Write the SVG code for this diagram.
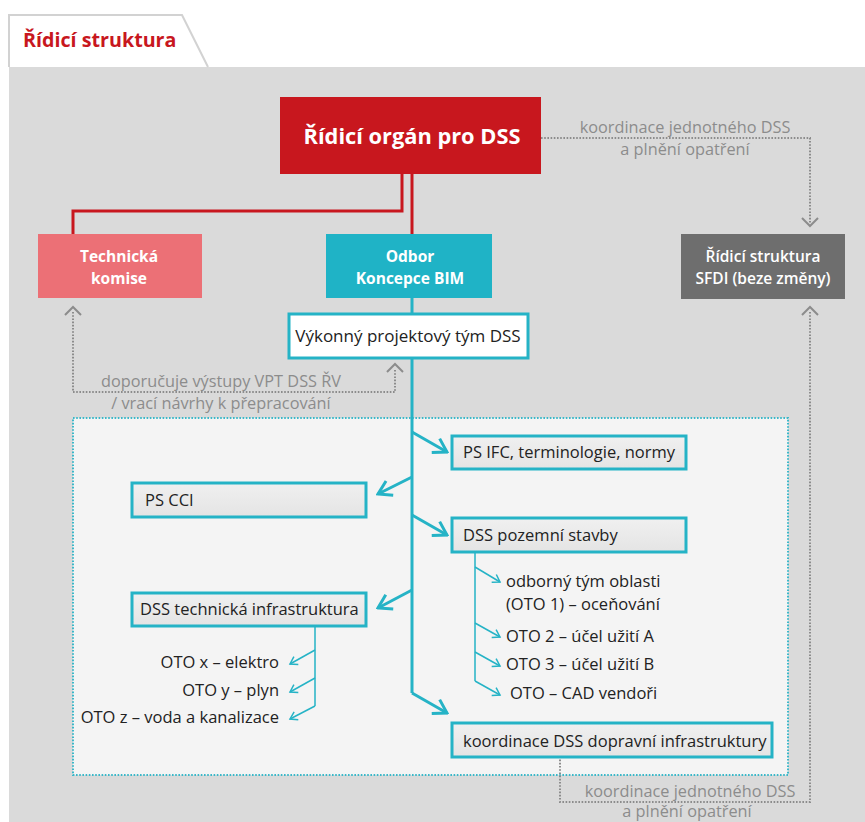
<svg xmlns="http://www.w3.org/2000/svg" width="865" height="822" viewBox="0 0 865 822">
<style>
text{font-family:"Open Sans","Liberation Sans",sans-serif;}
.t{font-size:16.5px;fill:#222;}
.w{font-size:15.5px;font-weight:700;fill:#fff;text-anchor:middle;}
.g{font-size:16.3px;fill:#8c8c8c;text-anchor:middle;}
.box{fill:url(#bg);stroke:#25b3c6;stroke-width:3;}
.dot{fill:none;stroke:#8c8c8c;stroke-width:2;stroke-dasharray:1.6 1.6;}
.chev{fill:none;stroke:#8c8c8c;stroke-width:2;}
.red{fill:none;stroke:#c8171e;stroke-width:3;}
.tl{fill:none;stroke:#25b3c6;stroke-width:3;}
.ts{fill:none;stroke:#25b3c6;stroke-width:1.5;}
</style>
<defs>
<linearGradient id="bg" x1="0" y1="0" x2="0" y2="1"><stop offset="0" stop-color="#f0f0f0"/><stop offset="1" stop-color="#e4e4e4"/></linearGradient>
<marker id="ah" viewBox="-16 -10 18 20" refX="0" refY="0" markerWidth="18" markerHeight="20" markerUnits="userSpaceOnUse" orient="auto"><path d="M-13,-8 L0,0 L-13,8" fill="none" stroke="#25b3c6" stroke-width="3"/></marker>
<marker id="as" viewBox="-9 -6 11 12" refX="0" refY="0" markerWidth="11" markerHeight="12" markerUnits="userSpaceOnUse" orient="auto"><path d="M-7,-4.5 L0,0 L-7,4.5" fill="none" stroke="#25b3c6" stroke-width="1.5"/></marker>
</defs>
<rect x="0" y="0" width="865" height="822" fill="#fff"/>
<rect x="9" y="67" width="856" height="755" fill="#dadada"/>
<g id="tab">
<path d="M9,67 L9,15 L182,15 L208,67 Z" fill="#fff"/>
<path d="M9,67 L9,15 L182,15 L208,67" fill="none" stroke="#d2d2d2" stroke-width="2"/>
<text x="23" y="47" style="font-size:19.7px;font-weight:700;fill:#c8171e;">Řídicí struktura</text>
</g>
<g id="area">
<rect x="73" y="418" width="715" height="357" fill="#f4f4f4" stroke="#3ab8c9" stroke-width="2" stroke-dasharray="1.6 1.6"/>
</g>
<g id="connectors">
<path class="red" d="M402,174 L402,211 L73,211 L73,234"/>
<path class="red" d="M412,174 L412,234"/>
<path class="tl" d="M412,298 L412,314"/>
<path class="tl" d="M412,358 L412,693"/>
<path class="tl" d="M412,432 L447,452" marker-end="url(#ah)"/>
<path class="tl" d="M412,477 L378,494" marker-end="url(#ah)"/>
<path class="tl" d="M412,515 L447,535" marker-end="url(#ah)"/>
<path class="tl" d="M412,590 L378,608" marker-end="url(#ah)"/>
<path class="tl" d="M412,693 L447,713" marker-end="url(#ah)"/>
<path class="ts" d="M475,552 L475,681"/>
<path class="ts" d="M475,567 L500,582" marker-end="url(#as)"/>
<path class="ts" d="M475,623 L500,637" marker-end="url(#as)"/>
<path class="ts" d="M475,652 L500,666" marker-end="url(#as)"/>
<path class="ts" d="M475,681 L500,695" marker-end="url(#as)"/>
<path class="ts" d="M315,626 L315,706"/>
<path class="ts" d="M315,650 L290,664" marker-end="url(#as)"/>
<path class="ts" d="M315,678 L290,692" marker-end="url(#as)"/>
<path class="ts" d="M315,706 L290,719" marker-end="url(#as)"/>
<path class="dot" d="M541,138 L810,138 L810,224"/>
<path class="chev" d="M802,218 L810,226 L818,218"/>
<path class="dot" d="M73,312 L73,392 L395,392 L395,370"/>
<path class="chev" d="M65,315 L73,307 L81,315"/>
<path class="chev" d="M387,372 L395,364 L403,372"/>
<path class="dot" d="M810,312 L810,802 L560,802 L560,758"/>
<path class="chev" d="M802,315 L810,307 L818,315"/>
<text class="g" x="685" y="133">koordinace jednotného DSS</text>
<text class="g" x="685" y="155">a plnění opatření</text>
<text class="g" x="221" y="387">doporučuje výstupy VPT DSS ŘV</text>
<text class="g" x="221" y="409">/ vrací návrhy k přepracování</text>
<text class="g" x="690" y="797">koordinace jednotného DSS</text>
<text class="g" x="687" y="817">a plnění opatření</text>
</g>
<g id="ridici-organ">
<rect x="280" y="97" width="261" height="77" fill="#c8171e"/>
<text x="412" y="144" style="font-size:21.8px;font-weight:700;fill:#fff;text-anchor:middle;">Řídicí orgán pro DSS</text>
</g>
<g id="technicka-komise">
<rect x="38" y="234" width="164" height="64" fill="#ec7076"/>
<text class="w" x="119" y="262">Technická</text>
<text class="w" x="119" y="284">komise</text>
</g>
<g id="odbor-bim">
<rect x="326" y="234" width="166" height="64" fill="#1fb3c6"/>
<text class="w" x="410" y="262">Odbor</text>
<text class="w" x="410" y="284">Koncepce BIM</text>
</g>
<g id="sfdi">
<rect x="681" y="234" width="164" height="65" fill="#6e6e6e"/>
<text class="w" x="763" y="262" style="font-weight:600">Řídicí struktura</text>
<text class="w" x="763" y="284" style="font-weight:600">SFDI (beze změny)</text>
</g>
<g id="vykonny-tym">
<rect x="289" y="314" width="239" height="44" fill="#fff" stroke="#25b3c6" stroke-width="3"/>
<text class="t" x="408" y="342" style="text-anchor:middle;font-size:17px">Výkonný projektový tým DSS</text>
</g>
<g id="ps-ifc">
<rect class="box" x="452" y="436" width="234" height="33"/>
<text class="t" x="463" y="458">PS IFC, terminologie, normy</text>
</g>
<g id="ps-cci">
<rect class="box" x="132" y="483" width="234" height="34"/>
<text class="t" x="145" y="506">PS CCI</text>
</g>
<g id="dss-pozemni">
<rect class="box" x="452" y="518" width="234" height="34"/>
<text class="t" x="463" y="541">DSS pozemní stavby</text>
</g>
<g id="oto-pozemni">
<text class="t" x="506" y="587">odborný tým oblasti</text>
<text class="t" x="506" y="610">(OTO 1) – oceňování</text>
<text class="t" x="506" y="642">OTO 2 – účel užití A</text>
<text class="t" x="506" y="670">OTO 3 – účel užití B</text>
<text class="t" x="510" y="699">OTO – CAD vendoři</text>
</g>
<g id="dss-technicka">
<rect class="box" x="132" y="593" width="234" height="33"/>
<text class="t" x="140" y="615">DSS technická infrastruktura</text>
</g>
<g id="oto-technicka">
<text class="t" x="279" y="668" text-anchor="end">OTO x – elektro</text>
<text class="t" x="279" y="696" text-anchor="end">OTO y – plyn</text>
<text class="t" x="279" y="723" text-anchor="end">OTO z – voda a kanalizace</text>
</g>
<g id="koordinace-dopravni">
<rect class="box" x="452" y="723" width="320" height="34"/>
<text class="t" x="463" y="747">koordinace DSS dopravní infrastruktury</text>
</g>
</svg>
